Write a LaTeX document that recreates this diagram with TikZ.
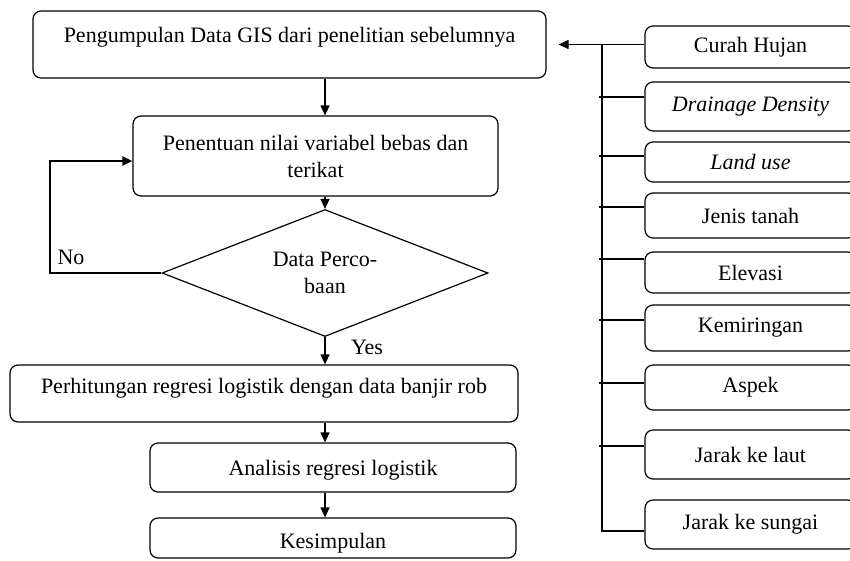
\documentclass[tikz,border=0pt]{standalone}
\usepackage{fontspec}
\setmainfont{Liberation Serif}
\usetikzlibrary{shapes.geometric,arrows.meta}
\begin{document}
\begin{tikzpicture}[x=1pt,y=-1pt,
  every node/.style={font=\fontsize{22}{27}\selectfont},
  box/.style={draw, rounded corners=8pt, line width=1.2pt, inner sep=0pt, align=center},
  rbox/.style={box, minimum width=211pt},
  ln/.style={line width=1.2pt, line join=miter},
  arr/.style={line width=1.2pt, -{Triangle[length=10pt,width=9pt]}},
  fback/.style={line width=2.2pt, -{Triangle[length=10pt,width=9pt]}},
]
\useasboundingbox (0,0) rectangle (850,560);
\clip (0,0) rectangle (850,560);

% main column
\node[box, minimum width=513pt, text height=31pt, text depth=36pt] (b1) at (289.5,44.5) {Pengumpulan Data GIS dari penelitian sebelumnya};
\node[box, minimum width=365pt, minimum height=80pt] (b2) at (315.5,156) {Penentuan nilai variabel bebas dan\\terikat};
\node[draw, diamond, aspect=2.57, line width=1.2pt, minimum width=326pt, minimum height=127pt, inner sep=0pt, align=center] (d) at (325,273) {Data Perco-\\baan};
\node[box, minimum width=508pt, text height=28pt, text depth=29pt] (b3) at (264,393.5) {Perhitungan regresi logistik dengan data banjir rob};
\node[box, minimum width=366pt, text height=32pt, text depth=17pt] (b4) at (333,467.5) {Analisis regresi logistik};
\node[box, minimum width=366pt, text height=30pt, text depth=10pt] (b5) at (333,538) {Kesimpulan};

% right column
\node[rbox, minimum height=42pt] (c1) at (750.5,47) {Curah Hujan};
\node[rbox, minimum height=49pt] (c2) at (750.5,106.5) {\textit{Drainage Density}};
\node[rbox, minimum height=40pt] (c3) at (750.5,162) {\textit{Land use}};
\node[rbox, minimum height=45pt] (c4) at (750.5,215.5) {Jenis tanah};
\node[rbox, minimum height=41pt] (c5) at (750.5,272.5) {Elevasi};
\node[rbox, minimum height=46pt] (c6) at (750.5,328) {Kemiringan};
\node[rbox, minimum height=45pt] (c7) at (750.5,387.5) {Aspek};
\node[rbox, minimum height=49pt] (c8) at (750.5,454.5) {Jarak ke laut};
\node[rbox, minimum height=49pt] (c9) at (750.5,524.5) {Jarak ke sungai};

% bus coordinates
\coordinate (t1) at (602,44.5);
\coordinate (t2) at (602,97);
\coordinate (t3) at (602,156);
\coordinate (t4) at (602,207);
\coordinate (t5) at (602,259);
\coordinate (t6) at (602,320);
\coordinate (t7) at (602,383);
\coordinate (t8) at (602,446);
\coordinate (t9) at (602,531);

\draw[ln] (t1) -- (t9) -- (c9.west |- t9);
\draw[ln] (c2.west |- t2) -- ([xshift=-3pt]t2);
\draw[ln] (c3.west |- t3) -- ([xshift=-3pt]t3);
\draw[ln] (c4.west |- t4) -- ([xshift=-3pt]t4);
\draw[ln] (c5.west |- t5) -- ([xshift=-3pt]t5);
\draw[ln] (c6.west |- t6) -- ([xshift=-3pt]t6);
\draw[ln] (c7.west |- t7) -- ([xshift=-3pt]t7);
\draw[ln] (c8.west |- t8) -- ([xshift=-3pt]t8);
\draw[arr] (c1.west |- t1) -- ([xshift=12pt]b1.east);

% main flow arrows
\draw[arr] (d |- b1.south) -- (d |- b2.north);
\draw[arr] (d |- b2.south) -- (d.north);
\draw[arr] (d.south) -- (d |- b3.north);
\draw[arr] (d |- b3.south) -- (d |- b4.north);
\draw[arr] (d |- b4.south) -- (d |- b5.north);

% feedback
\coordinate (fb) at (50,161);
\draw[fback] (d.west) -| (fb) -- (b2.west |- fb);

\node (no) at (71,257) {No};
\node (yes) at (367,347) {Yes};
\end{tikzpicture}
\end{document}
